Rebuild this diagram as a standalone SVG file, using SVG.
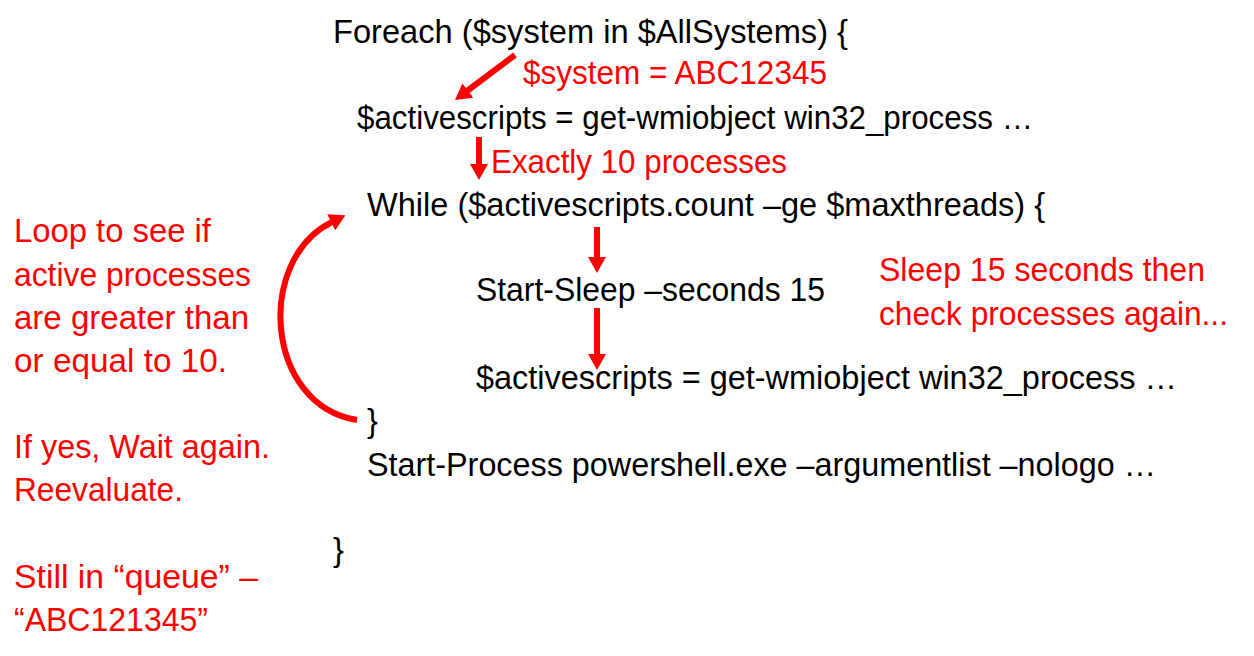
<svg xmlns="http://www.w3.org/2000/svg" width="1254" height="656" viewBox="0 0 1254 656">
<style>
text{font-family:"Liberation Sans","Open Sans",sans-serif;font-size:32.5px}
.k{fill:#000}
.r{fill:#ff0000}
.a{stroke:#ff0000;stroke-width:6;fill:none;marker-end:url(#h)}
</style>
<defs>
<marker id="h" markerUnits="userSpaceOnUse" markerWidth="16" markerHeight="18" viewBox="0 0 16 18" refX="1" refY="9" orient="auto">
<path d="M0,0 L16,9 L0,18 z" fill="#ff0000"/>
</marker>
</defs>
<rect width="1254" height="656" fill="#fff"/>
<g id="code">
<text class="k" x="333" y="43" textLength="515" lengthAdjust="spacingAndGlyphs">Foreach ($system in $AllSystems) {</text>
<text class="k" x="357" y="129" textLength="676" lengthAdjust="spacingAndGlyphs">$activescripts = get-wmiobject win32_process …</text>
<text class="k" x="367" y="216" textLength="678" lengthAdjust="spacingAndGlyphs">While ($activescripts.count –ge $maxthreads) {</text>
<text class="k" x="476" y="301" textLength="349" lengthAdjust="spacingAndGlyphs">Start-Sleep –seconds 15</text>
<text class="k" x="476" y="389" textLength="701" lengthAdjust="spacingAndGlyphs">$activescripts = get-wmiobject win32_process …</text>
<text class="k" x="367" y="432">}</text>
<text class="k" x="367" y="476" textLength="789" lengthAdjust="spacingAndGlyphs">Start-Process powershell.exe –argumentlist –nologo …</text>
<text class="k" x="333" y="561">}</text>
</g>
<g id="notes">
<text class="r" x="523" y="84" textLength="304" lengthAdjust="spacingAndGlyphs">$system = ABC12345</text>
<text class="r" x="491" y="173" textLength="296" lengthAdjust="spacingAndGlyphs">Exactly 10 processes</text>
<text class="r" x="879" y="281" textLength="326" lengthAdjust="spacingAndGlyphs">Sleep 15 seconds then</text>
<text class="r" x="879" y="325" textLength="349" lengthAdjust="spacingAndGlyphs">check processes again...</text>
</g>
<g id="side">
<text class="r" x="14" y="242" textLength="197" lengthAdjust="spacingAndGlyphs">Loop to see if</text>
<text class="r" x="14" y="286" textLength="237" lengthAdjust="spacingAndGlyphs">active processes</text>
<text class="r" x="14" y="329" textLength="235" lengthAdjust="spacingAndGlyphs">are greater than</text>
<text class="r" x="14" y="372" textLength="213" lengthAdjust="spacingAndGlyphs">or equal to 10.</text>
<text class="r" x="14" y="458" textLength="256" lengthAdjust="spacingAndGlyphs">If yes, Wait again.</text>
<text class="r" x="14" y="501" textLength="169" lengthAdjust="spacingAndGlyphs">Reevaluate.</text>
<text class="r" x="14" y="588" textLength="244" lengthAdjust="spacingAndGlyphs">Still in “queue” –</text>
<text class="r" x="14" y="631" textLength="194" lengthAdjust="spacingAndGlyphs">“ABC121345”</text>
</g>
<g id="connectors">
<line class="a" x1="515" y1="55" x2="467" y2="91"/>
<line class="a" x1="479" y1="137" x2="479" y2="165"/>
<line class="a" x1="597" y1="227" x2="597" y2="258"/>
<line class="a" x1="597" y1="308" x2="597" y2="355"/>
<path class="a" stroke-width="7" d="M357,420 C265,405 255,260 332,222"/>
</g>
</svg>
